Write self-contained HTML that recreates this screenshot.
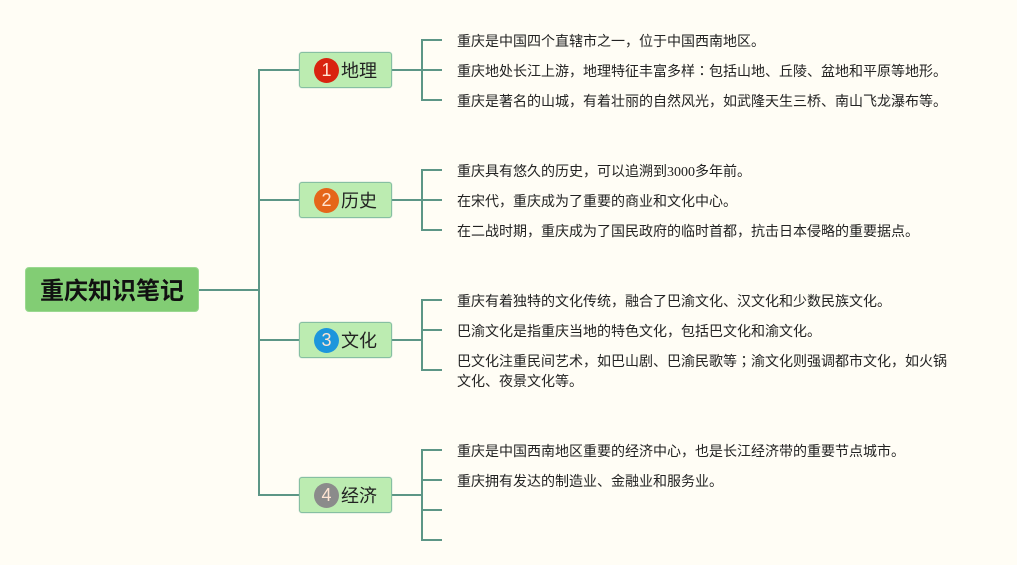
<!DOCTYPE html>
<html lang="zh-CN">
<head>
<meta charset="utf-8">
<style>
html,body{margin:0;padding:0;background:#fffdf5;}
body{width:1017px;height:565px;overflow:hidden;position:relative;}
svg{position:absolute;left:0;top:0;}
.root{position:absolute;left:25px;top:267px;width:174px;height:45px;box-sizing:border-box;background:#82cd74;border:1px solid #9ad890;border-radius:4px;font:bold 24px/47px "Liberation Sans","Noto Sans CJK SC",sans-serif;color:#111;text-align:center;}
.node{position:absolute;left:299px;width:93px;height:36px;box-sizing:border-box;background:#bcecb1;border:1px solid #86bfa2;border-radius:3px;box-shadow:0 0 1px 0 #7fb89c;}
.badge{position:absolute;left:14px;top:4.5px;width:25px;height:25px;border-radius:50%;color:#ffe4d2;font:18px/25px "Liberation Sans",sans-serif;text-align:center;}
.label{position:absolute;left:41px;top:0;font:18px/36px "Liberation Sans","Noto Sans CJK SC",sans-serif;color:#222;white-space:nowrap;}
.t{position:absolute;left:457px;font:14px/20px "Liberation Serif","Noto Sans CJK SC",sans-serif;color:#222;white-space:nowrap;}
.c{font-family:"Noto Sans CJK TC",sans-serif;line-height:0;}
</style>
</head>
<body>
<svg width="1017" height="565" viewBox="0 0 1017 565" fill="none" stroke="#5c9686" stroke-width="2">
<path d="M199 290H259M299 70H259V495H299M259 200H299M259 340H299"/>
<path d="M392 70H422M442 40H422V100H442M422 70H442"/>
<path d="M392 200H422M442 170H422V230H442M422 200H442"/>
<path d="M392 340H422M442 300H422V370H442M422 330H442"/>
<path d="M392 495H422M442 450H422V540H442M422 480H442M422 510H442"/>
</svg>
<div class="root">重庆知识笔记</div>

<div class="node" style="top:52px"><div class="badge" style="background:#d9230f">1</div><div class="label">地理</div></div>
<div class="node" style="top:182px"><div class="badge" style="background:#e5651a">2</div><div class="label">历史</div></div>
<div class="node" style="top:322px"><div class="badge" style="background:#1d96dc">3</div><div class="label">文化</div></div>
<div class="node" style="top:477px"><div class="badge" style="background:#8b8b8b">4</div><div class="label">经济</div></div>

<div class="t" style="top:33px">重庆是中国四个直辖市之一，位于中国西南地区。</div>
<div class="t" style="top:63px">重庆地处长江上游，地理特征丰富多样<span class="c" lang="zh-TW">：</span>包括山地、丘陵、盆地和平原等地形。</div>
<div class="t" style="top:93px">重庆是著名的山城，有着壮丽的自然风光，如武隆天生三桥、南山飞龙瀑布等。</div>

<div class="t" style="top:163px">重庆具有悠久的历史，可以追溯到3000多年前。</div>
<div class="t" style="top:193px">在宋代，重庆成为了重要的商业和文化中心。</div>
<div class="t" style="top:223px">在二战时期，重庆成为了国民政府的临时首都，抗击日本侵略的重要据点。</div>

<div class="t" style="top:293px">重庆有着独特的文化传统，融合了巴渝文化、汉文化和少数民族文化。</div>
<div class="t" style="top:323px">巴渝文化是指重庆当地的特色文化，包括巴文化和渝文化。</div>
<div class="t" style="top:353px">巴文化注重民间艺术，如巴山剧、巴渝民歌等<span class="c" lang="zh-TW">；</span>渝文化则强调都市文化，如火锅</div>
<div class="t" style="top:373px">文化、夜景文化等。</div>

<div class="t" style="top:443px">重庆是中国西南地区重要的经济中心，也是长江经济带的重要节点城市。</div>
<div class="t" style="top:473px">重庆拥有发达的制造业、金融业和服务业。</div>
</body>
</html>
